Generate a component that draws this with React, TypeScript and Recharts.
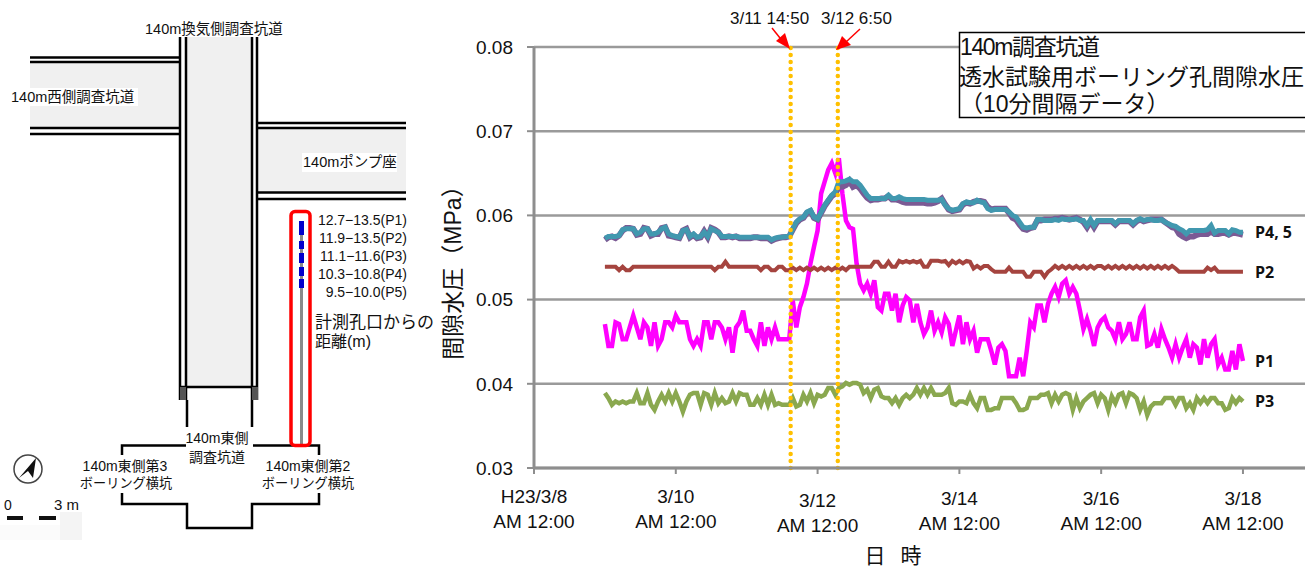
import { CartesianGrid, Line, LineChart, ReferenceLine, XAxis, YAxis } from 'recharts';

// Pore pressure (MPa), every 0.05 day from 3/9 00:00; one row per day.
const P1 = [
  .0471,.0445,.0445,.0473,.0471,.0453,.0453,.0467,.0481,.0467,.0453,.0473,.0467,.0445,.0473,.0445,.0453,.0473,.0473,.0467,
  .0481,.0473,.0473,.0473,.0453,.0445,.0453,.0445,.0473,.0473,.0453,.0473,.0473,.0467,.0453,.0467,.0437,.0467,.0473,.0487,
  .0463,.0463,.0453,.0445,.0473,.0445,.0467,.0453,.0467,.0453,.0453,.0453,.0453,.0499,.0467,.0491,.0503,.0519,.0543,.0563,
  .0582,.0626,.0640,.0654,.0662,.0650,.0668,.0626,.0594,.0586,.0584,.0543,.0519,.0511,.0519,.0507,.0523,.0491,.0487,.0507,
  .0507,.0487,.0507,.0473,.0493,.0503,.0499,.0473,.0495,.0473,.0459,.0467,.0487,.0463,.0473,.0461,.0479,.0471,.0445,.0463,
  .0481,.0447,.0473,.0453,.0463,.0437,.0453,.0453,.0453,.0439,.0423,.0443,.0447,.0439,.0409,.0409,.0409,.0431,.0409,.0439,
  .0473,.0467,.0493,.0493,.0473,.0495,.0507,.0515,.0503,.0519,.0523,.0507,.0515,.0507,.0487,.0465,.0477,.0463,.0445,.0467,
  .0475,.0479,.0467,.0463,.0453,.0473,.0453,.0459,.0473,.0453,.0453,.0479,.0487,.0445,.0447,.0459,.0443,.0465,.0453,.0443,
  .0431,.0447,.0431,.0443,.0453,.0431,.0447,.0443,.0423,.0453,.0431,.0447,.0453,.0423,.0431,.0417,.0417,.0439,.0417,.0447,
  .0427,
];
const P2 = [
  .0539,.0539,.0539,.0539,.0535,.0539,.0535,.0535,.0539,.0539,.0539,.0539,.0539,.0539,.0539,.0539,.0539,.0539,.0539,.0539,
  .0539,.0539,.0539,.0539,.0539,.0539,.0539,.0539,.0539,.0539,.0539,.0535,.0539,.0539,.0545,.0539,.0539,.0539,.0539,.0539,
  .0539,.0539,.0539,.0539,.0535,.0539,.0539,.0535,.0535,.0539,.0539,.0535,.0535,.0538,.0535,.0538,.0535,.0538,.0535,.0538,
  .0535,.0538,.0535,.0538,.0535,.0538,.0535,.0538,.0535,.0539,.0539,.0539,.0539,.0539,.0539,.0539,.0545,.0545,.0539,.0539,
  .0545,.0539,.0539,.0546,.0544,.0546,.0544,.0546,.0544,.0546,.0539,.0539,.0546,.0546,.0546,.0545,.0546,.0541,.0546,.0543,
  .0546,.0543,.0546,.0545,.0537,.0540,.0537,.0540,.0540,.0536,.0533,.0533,.0533,.0533,.0538,.0533,.0533,.0533,.0533,.0527,
  .0527,.0533,.0533,.0533,.0527,.0533,.0536,.0540,.0537,.0540,.0537,.0540,.0537,.0540,.0537,.0540,.0537,.0540,.0537,.0540,
  .0540,.0537,.0540,.0537,.0540,.0537,.0540,.0537,.0540,.0537,.0540,.0537,.0540,.0537,.0540,.0537,.0540,.0537,.0540,.0537,
  .0540,.0537,.0533,.0533,.0533,.0533,.0533,.0533,.0533,.0533,.0538,.0535,.0538,.0533,.0533,.0533,.0533,.0533,.0533,.0533,
  .0533,
];
const P3 = [
  .0389,.0383,.0375,.0379,.0377,.0379,.0377,.0379,.0379,.0389,.0377,.0377,.0389,.0375,.0369,.0379,.0387,.0379,.0389,.0379,
  .0389,.0379,.0367,.0379,.0387,.0389,.0389,.0375,.0389,.0387,.0375,.0389,.0377,.0383,.0377,.0379,.0389,.0379,.0389,.0387,
  .0387,.0375,.0375,.0383,.0375,.0387,.0375,.0387,.0375,.0377,.0375,.0375,.0375,.0383,.0373,.0375,.0387,.0379,.0389,.0377,
  .0387,.0385,.0387,.0395,.0395,.0387,.0395,.0397,.0401,.0399,.0401,.0401,.0399,.0389,.0393,.0383,.0393,.0395,.0385,.0383,
  .0383,.0377,.0383,.0375,.0383,.0387,.0383,.0387,.0395,.0387,.0395,.0387,.0395,.0387,.0387,.0387,.0389,.0395,.0377,.0375,
  .0379,.0379,.0377,.0387,.0377,.0371,.0383,.0383,.0369,.0369,.0371,.0371,.0383,.0383,.0383,.0383,.0377,.0369,.0369,.0371,
  .0383,.0383,.0383,.0387,.0387,.0389,.0377,.0387,.0379,.0387,.0389,.0387,.0369,.0383,.0371,.0379,.0383,.0387,.0389,.0377,
  .0387,.0383,.0369,.0385,.0377,.0387,.0389,.0377,.0389,.0387,.0383,.0369,.0379,.0363,.0373,.0377,.0377,.0377,.0383,.0383,
  .0383,.0375,.0383,.0383,.0371,.0377,.0369,.0383,.0377,.0383,.0377,.0383,.0383,.0377,.0377,.0369,.0371,.0383,.0377,.0383,
  .0379,
];
const P4 = [
  .0571,.0574,.0575,.0573,.0576,.0582,.0585,.0585,.0584,.0577,.0578,.0585,.0584,.0576,.0578,.0578,.0585,.0586,.0576,.0575,
  .0574,.0573,.0582,.0584,.0574,.0577,.0573,.0574,.0581,.0574,.0585,.0583,.0580,.0574,.0574,.0575,.0574,.0575,.0573,.0573,
  .0573,.0573,.0574,.0574,.0573,.0573,.0573,.0570,.0572,.0573,.0574,.0574,.0575,.0583,.0591,.0595,.0597,.0603,.0605,.0597,
  .0595,.0603,.0611,.0617,.0623,.0626,.0634,.0634,.0636,.0641,.0634,.0636,.0632,.0626,.0621,.0618,.0619,.0619,.0620,.0620,
  .0623,.0619,.0619,.0618,.0616,.0615,.0615,.0615,.0615,.0615,.0615,.0614,.0614,.0615,.0617,.0620,.0613,.0607,.0605,.0606,
  .0607,.0613,.0615,.0614,.0616,.0617,.0617,.0616,.0610,.0607,.0608,.0608,.0608,.0608,.0603,.0597,.0595,.0589,.0584,.0583,
  .0585,.0586,.0594,.0594,.0595,.0595,.0595,.0596,.0596,.0597,.0596,.0595,.0596,.0597,.0595,.0592,.0586,.0593,.0586,.0593,
  .0593,.0593,.0593,.0593,.0589,.0593,.0593,.0593,.0593,.0589,.0593,.0595,.0593,.0594,.0595,.0595,.0595,.0595,.0592,.0589,
  .0586,.0585,.0578,.0575,.0573,.0575,.0575,.0577,.0578,.0578,.0578,.0581,.0578,.0578,.0579,.0579,.0577,.0579,.0579,.0578,
  .0577,
];
const P5 = [
  .0573,.0575,.0575,.0575,.0576,.0583,.0584,.0584,.0584,.0578,.0580,.0584,.0584,.0578,.0578,.0580,.0584,.0586,.0578,.0576,
  .0575,.0574,.0582,.0583,.0575,.0578,.0574,.0575,.0580,.0575,.0584,.0582,.0580,.0575,.0575,.0575,.0575,.0575,.0574,.0574,
  .0574,.0574,.0574,.0574,.0574,.0574,.0574,.0571,.0573,.0574,.0574,.0575,.0575,.0584,.0592,.0596,.0598,.0604,.0606,.0598,
  .0596,.0604,.0612,.0618,.0624,.0628,.0640,.0640,.0641,.0643,.0640,.0640,.0636,.0630,.0624,.0620,.0620,.0620,.0620,.0620,
  .0624,.0620,.0620,.0622,.0620,.0619,.0619,.0619,.0619,.0619,.0619,.0618,.0618,.0618,.0618,.0619,.0612,.0608,.0606,.0607,
  .0608,.0614,.0616,.0615,.0615,.0618,.0616,.0615,.0608,.0606,.0607,.0607,.0607,.0607,.0604,.0600,.0598,.0592,.0586,.0585,
  .0586,.0586,.0595,.0595,.0594,.0594,.0594,.0595,.0594,.0596,.0595,.0595,.0595,.0596,.0594,.0594,.0588,.0595,.0588,.0594,
  .0594,.0594,.0594,.0594,.0590,.0594,.0594,.0594,.0594,.0590,.0594,.0596,.0594,.0595,.0595,.0594,.0594,.0595,.0592,.0590,
  .0588,.0587,.0584,.0582,.0578,.0582,.0582,.0582,.0582,.0582,.0583,.0588,.0579,.0582,.0582,.0582,.0578,.0583,.0582,.0580,
  .0580,
];

const X_TICKS = [0, 2, 4, 6, 8, 10];
const X_DATES = ['H23/3/8', '3/10', '3/12', '3/14', '3/16', '3/18'];
const Y_TICKS = [0.03, 0.04, 0.05, 0.06, 0.07, 0.08];
const QUAKE_DAY = 3.62; // 3/11 14:50
const HYDROGEN_DAY = 4.285; // 3/12 6:50

const rows = P1.map((p1, i) => ({
  day: 1 + i * 0.05,
  p1,
  p2: P2[i],
  p3: P3[i],
  p4: P4[i],
  p5: P5[i],
}));

const FONT = '"Liberation Sans", "Noto Sans CJK JP", sans-serif';
const AXIS = '#8e8e8e';
const GRID = '#9a9a9a';
const ORANGE = '#FFC000';
const INK = '#111';

// the reference nudges the date labels down a little from 3/12 on
const TICK_DY = [0, 0, 4, 2, 2, 2];

function DateTick({ x, y, payload, index }: any) {
  const dy = TICK_DY[index] ?? 0;
  return (
    <text x={x} textAnchor="middle" fontFamily={FONT} fontSize={19} fill={INK}>
      <tspan x={x} y={y + 27 + dy}>{X_DATES[X_TICKS.indexOf(payload.value)]}</tspan>
      <tspan x={x} y={y + 52 + dy}>AM 12:00</tspan>
    </text>
  );
}

const endLabel = (name: string) =>
  function EndLabel({ x, y, index }: any) {
    if (index !== rows.length - 1) return null;
    return (
      <text x={x + 12} y={y + 6} fontFamily='"Open Sans", sans-serif' fontWeight={700} fontSize={16} fill="#111">
        {name}
      </text>
    );
  };

function Tunnels() {
  const wall = { stroke: '#000', fill: 'none' };
  return (
    <g>
      {/* grey floors */}
      <rect x={30} y={63} width={150} height={65} fill="#f0f0f0" />
      <rect x={187} y={37} width={65} height={350} fill="#f0f0f0" />
      <rect x={258} y={128} width={148} height={65} fill="#f0f0f0" />
      {/* west drift */}
      <path d="M30 57.5H179M30 62H179M30 128H179M30 134H179" {...wall} strokeWidth={2.5} />
      {/* ventilation side drift */}
      <path d="M180 37V400M186 37V400M252 37V400M257 37V400" {...wall} strokeWidth={2.5} />
      <path d="M180 387H258" {...wall} strokeWidth={2.5} />
      <rect x={180} y={387} width={6} height={13} fill="#555" />
      <rect x={252} y={387} width={6} height={13} fill="#555" />
      {/* pump seat */}
      <path d="M258 123H406M258 128H406M258 192.5H406M258 199H406" {...wall} strokeWidth={2.5} />
      {/* east drift and cross */}
      <path
        d="M187 400V427M252 400V427M186 445.500H122V455M253 445.500H319V455M122 493V504H187V528H252V504H319V493"
        {...wall}
        strokeWidth={2.5}
      />
      {/* boring hole */}
      <line x1={301.5} y1={221} x2={301.5} y2={445} stroke="#8a8a8a" strokeWidth={3} />
      <path d="M301.500 221V235M301.500 241V249M301.500 253V263M301.500 267V276M301.500 279V288" stroke="#0000cc" strokeWidth={5} />
      <rect x={291} y={211.500} width={19} height={234} rx={4} fill="none" stroke="#f00" strokeWidth={3.500} />
    </g>
  );
}

function PlanLabels() {
  const small = { fontFamily: FONT, fontSize: 14.5, fill: INK };
  const range = { fontFamily: FONT, fontSize: 14, fill: INK, textAnchor: 'end' as const };
  const mid = { fontFamily: FONT, fontSize: 14, fill: INK, textAnchor: 'middle' as const };
  const kana = { ...mid, fontSize: 13.2 };
  return (
    <g>
      <rect x={30} y={88} width={108} height={18} fill="#fff" />
      <rect x={302} y={153} width={95} height={19} fill="#fff" />
      <text x={145} y={34} {...small}>140m換気側調査坑道</text>
      <text x={11} y={102} {...small}>140m西側調査坑道</text>
      <text x={303} y={167} {...small}>140mポンプ座</text>
      <text x={407} y={225} {...range}>12.7−13.5(P1)</text>
      <text x={407} y={243} {...range}>11.9−13.5(P2)</text>
      <text x={407} y={261} {...range}>11.1−11.6(P3)</text>
      <text x={407} y={279} {...range}>10.3−10.8(P4)</text>
      <text x={407} y={297} {...range}>9.5−10.0(P5)</text>
      <text x={315} y={328} fontFamily={FONT} fontSize={17} fill={INK}>計測孔口からの</text>
      <text x={315} y={347} fontFamily={FONT} fontSize={16} fill={INK}>距離(m)</text>
      <text x={217} y={443} {...mid}>140m東側</text>
      <text x={217} y={462} {...mid}>調査坑道</text>
      <text x={125} y={471} {...mid}>140m東側第3</text>
      <text x={126} y={488} {...kana}>ボーリング横坑</text>
      <text x={308} y={471} {...mid}>140m東側第2</text>
      <text x={308} y={488} {...kana}>ボーリング横坑</text>
    </g>
  );
}

function CompassAndScale() {
  return (
    <g>
      <rect x={60} y={512} width={22} height={28} fill="#f4f4f4" />
      <rect x={0} y={525} width={60} height={15} fill="#fbfbfb" />
      <circle cx={28} cy={469} r={14} fill="#fff" stroke="#444" strokeWidth={1.500} />
      <polygon points="36,458 33,478 28,471 19,478" fill="#111" />
      <text x={4} y={510} fontFamily={FONT} fontSize={14} fill={INK}>0</text>
      <text x={54} y={510} fontFamily={FONT} fontSize={15} fill={INK}>3 m</text>
      <rect x={7} y={516} width={16} height={4} fill="#111" />
      <rect x={39} y={516} width={17} height={4} fill="#111" />
    </g>
  );
}

function Annotations() {
  return (
    <g>
      <text x={730} y={24} fontFamily={FONT} fontSize={17} fill={INK}>3/11 14:50</text>
      <text x={821} y={24} fontFamily={FONT} fontSize={17} fill={INK}>3/12 6:50</text>
      <line x1={772} y1={28} x2={784} y2={43} stroke="#f00" strokeWidth={1.500} />
      <polygon points="790,49 776,41 785,33" fill="#f00" />
      <line x1={860} y1={29} x2={846} y2={42} stroke="#f00" strokeWidth={1.500} />
      <polygon points="836,50 842,36 851,45" fill="#f00" />
      <rect x={959.500} y={32.500} width={360} height={85} fill="#fff" stroke="#000" strokeWidth={1.500} />
      <text fontFamily={FONT} fontSize={23} fill={INK}>
        <tspan x={960} y={55} textLength={140}>140m調査坑道</tspan>
        <tspan x={959} y={85}>透水試験用ボーリング孔間隙水圧</tspan>
        <tspan x={960} y={112}>（10分間隔データ）</tspan>
      </text>
      <text
        transform="translate(461 267) rotate(-90)"
        textAnchor="middle"
        fontFamily={FONT}
        fontSize={23}
        fill={INK}
      >
        間隙水圧（MPa）
      </text>
      <text x={893} y={563} textAnchor="middle" fontFamily={FONT} fontSize={21} wordSpacing={9} fill={INK}>
        日 時
      </text>
    </g>
  );
}

export default function App() {
  return (
    <div style={{ position: 'absolute', left: 0, top: 0, width: 1305, height: 567, overflow: 'hidden', background: '#fff' }}>
      <LineChart
        width={1305}
        height={567}
        data={rows}
        margin={{ top: 47, right: 0, bottom: 0, left: 474 }}
      >
        <CartesianGrid vertical={false} stroke={GRID} strokeWidth={2.500} horizontalValues={Y_TICKS} />
        <XAxis
          dataKey="day"
          type="number"
          domain={[0, 10.875]}
          ticks={X_TICKS}
          height={99}
          interval={0}
          tick={<DateTick />}
          tickSize={6}
          tickLine={{ stroke: AXIS, strokeWidth: 2 }}
          axisLine={{ stroke: AXIS, strokeWidth: 3 }}
        />
        <YAxis
          domain={[0.03, 0.08]}
          ticks={Y_TICKS}
          width={60}
          tickSize={7}
          tickMargin={14}
          tickFormatter={(v: number) => v.toFixed(2)}
          tick={{ fill: INK, fontSize: 19, fontFamily: FONT }}
          tickLine={{ stroke: AXIS, strokeWidth: 2 }}
          axisLine={{ stroke: AXIS, strokeWidth: 3 }}
        />
        <Line dataKey="p1" stroke="#FF00FF" strokeWidth={4.500} dot={false} isAnimationActive={false} label={endLabel('P1')} />
        <Line dataKey="p2" stroke="#A5443F" strokeWidth={4} dot={false} isAnimationActive={false} label={endLabel('P2')} />
        <Line dataKey="p3" stroke="#8AA84F" strokeWidth={4.500} dot={false} isAnimationActive={false} label={endLabel('P3')} />
        <Line dataKey="p4" stroke="#7B5A94" strokeWidth={6} dot={false} isAnimationActive={false} />
        <Line dataKey="p5" stroke="#4198AF" strokeWidth={5} dot={false} isAnimationActive={false} label={endLabel('P4, 5')} />
        <ReferenceLine x={QUAKE_DAY} stroke={ORANGE} strokeWidth={4.500} strokeDasharray="0 7" strokeLinecap="round" />
        <ReferenceLine x={HYDROGEN_DAY} stroke={ORANGE} strokeWidth={4.500} strokeDasharray="0 7" strokeLinecap="round" />
      </LineChart>
      <svg width={1305} height={567} style={{ position: 'absolute', left: 0, top: 0, pointerEvents: 'none' }}>
        <Annotations />
        <Tunnels />
        <PlanLabels />
        <CompassAndScale />
      </svg>
    </div>
  );
}
